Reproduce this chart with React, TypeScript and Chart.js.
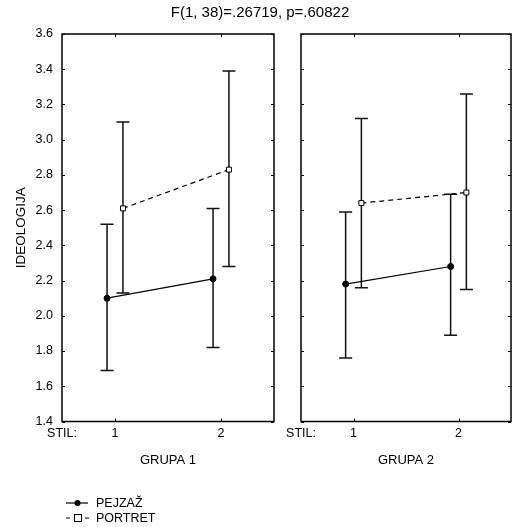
import React, { useEffect, useRef } from 'react';
import { Chart, registerables } from 'chart.js';

Chart.register(...registerables);

const FONT = '"Liberation Sans", Arial, Helvetica, sans-serif';

const titleText = 'F(1, 38)=.26719, p=.60822';
const yAxisTitle = 'IDEOLOGIJA';
const seriesNames = ['PEJZAŽ', 'PORTRET'];
const groupTitles = ['GRUPA 1', 'GRUPA 2'];
const stilLevels = [1, 2];
const xTickValues = [0.5, 1, 2];
const xTickLabels = ['STIL:', '1', '2'];
const yTickValues = [1.4, 1.6, 1.8, 2.0, 2.2, 2.4, 2.6, 2.8, 3.0, 3.2, 3.4, 3.6];

// GRUPA 1
const g1PejzazMean = [2.10, 2.21];
const g1PejzazLow = [1.69, 1.82];
const g1PejzazHigh = [2.52, 2.61];
const g1PortretMean = [2.61, 2.83];
const g1PortretLow = [2.13, 2.28];
const g1PortretHigh = [3.10, 3.39];

// GRUPA 2
const g2PejzazMean = [2.18, 2.28];
const g2PejzazLow = [1.76, 1.89];
const g2PejzazHigh = [2.59, 2.69];
const g2PortretMean = [2.64, 2.70];
const g2PortretLow = [2.16, 2.15];
const g2PortretHigh = [3.12, 3.26];

const SERIES_SHIFT = 0.075;

function makePoints(mean: number[], low: number[], high: number[], shift: number) {
  return stilLevels.map((s, i) => ({ x: s + shift, y: mean[i], lo: low[i], hi: high[i] }));
}

const errorBarPlugin = {
  id: 'errorBars',
  beforeDatasetsDraw(chart: any) {
    const ctx = chart.ctx;
    const xs = chart.scales.x;
    const ys = chart.scales.y;
    ctx.save();
    ctx.strokeStyle = '#111';
    ctx.lineWidth = 1.5;
    ctx.setLineDash([]);
    chart.data.datasets.forEach((ds: any) => {
      ds.data.forEach((p: any) => {
        const x = xs.getPixelForValue(p.x);
        const yl = ys.getPixelForValue(p.lo);
        const yh = ys.getPixelForValue(p.hi);
        ctx.beginPath();
        ctx.moveTo(x, yl);
        ctx.lineTo(x, yh);
        ctx.moveTo(x - 6.5, yl);
        ctx.lineTo(x + 6.5, yl);
        ctx.moveTo(x - 6.5, yh);
        ctx.lineTo(x + 6.5, yh);
        ctx.stroke();
      });
    });
    ctx.restore();
  },
};

const framePlugin = {
  id: 'frame',
  afterDraw(chart: any) {
    const ctx = chart.ctx;
    const a = chart.chartArea;
    const xs = chart.scales.x;
    const ys = chart.scales.y;
    ctx.save();
    ctx.strokeStyle = '#000';
    ctx.lineWidth = 1.5;
    ctx.setLineDash([]);
    ctx.strokeRect(a.left, a.top, a.right - a.left, a.bottom - a.top);
    ctx.lineWidth = 1;
    ctx.beginPath();
    yTickValues.forEach((v) => {
      const y = Math.round(ys.getPixelForValue(v)) + 0.5;
      ctx.moveTo(a.left, y);
      ctx.lineTo(a.left + 3, y);
      ctx.moveTo(a.right, y);
      ctx.lineTo(a.right - 3, y);
    });
    stilLevels.forEach((v) => {
      const x = Math.round(xs.getPixelForValue(v)) + 0.5;
      ctx.moveTo(x, a.top);
      ctx.lineTo(x, a.top + 3);
      ctx.moveTo(x, a.bottom);
      ctx.lineTo(x, a.bottom - 3);
    });
    ctx.stroke();
    ctx.restore();
  },
};

const decorPlugin = {
  id: 'decor',
  afterDraw(chart: any) {
    const ctx = chart.ctx;
    ctx.save();
    ctx.fillStyle = '#000';
    ctx.font = '15px ' + FONT;
    ctx.textAlign = 'center';
    ctx.textBaseline = 'middle';
    ctx.fillText(titleText, 260, 13);

    // legend
    ctx.font = '12.5px ' + FONT;
    ctx.textAlign = 'left';
    ctx.strokeStyle = '#000';
    ctx.lineWidth = 1.2;
    const y1 = 503;
    const y2 = 518;
    ctx.beginPath();
    ctx.moveTo(66, y1);
    ctx.lineTo(88, y1);
    ctx.stroke();
    ctx.beginPath();
    ctx.arc(77.5, y1, 3, 0, Math.PI * 2);
    ctx.fill();
    ctx.fillText(seriesNames[0], 96, y1 + 0.5);

    ctx.beginPath();
    ctx.moveTo(66, y2);
    ctx.lineTo(70, y2);
    ctx.moveTo(85, y2);
    ctx.lineTo(89, y2);
    ctx.stroke();
    ctx.fillStyle = '#fff';
    ctx.fillRect(74.5, y2 - 3.5, 7, 7);
    ctx.lineWidth = 1;
    ctx.strokeRect(74.5, y2 - 3.5, 7, 7);
    ctx.fillStyle = '#000';
    ctx.fillText(seriesNames[1], 96, y2 + 0.5);
    ctx.restore();
  },
};

function buildConfig(
  groupIndex: number,
  datasets: any[],
  padding: any,
  yWidth: number,
  showYLabels: boolean,
  extraPlugins: any[]
) {
  return {
    type: 'line' as const,
    data: { datasets },
    plugins: [errorBarPlugin, framePlugin, ...extraPlugins],
    options: {
      responsive: false,
      animation: false as const,
      devicePixelRatio: 1,
      layout: { padding },
      plugins: {
        legend: { display: false },
        tooltip: { enabled: false },
        title: { display: false },
      },
      scales: {
        x: {
          type: 'linear' as const,
          min: 0.5,
          max: 2.5,
          afterBuildTicks: (s: any) => {
            s.ticks = xTickValues.map((v) => ({ value: v }));
          },
          afterFit: (s: any) => {
            s.height = 50;
          },
          ticks: {
            autoSkip: false,
            maxRotation: 0,
            minRotation: 0,
            padding: 5,
            color: '#000',
            font: { family: FONT, size: 12.5 },
            callback: (_v: any, i: number) => xTickLabels[i],
          },
          grid: { display: false, drawTicks: false },
          border: { display: false },
          title: {
            display: true,
            text: groupTitles[groupIndex],
            color: '#000',
            font: { family: FONT, size: 13 },
            padding: { top: 0, bottom: 3 },
          },
        },
        y: {
          type: 'linear' as const,
          min: 1.4,
          max: 3.6,
          afterBuildTicks: (s: any) => {
            s.ticks = yTickValues.map((v) => ({ value: v }));
          },
          afterFit: (s: any) => {
            s.width = yWidth;
          },
          ticks: {
            display: showYLabels,
            autoSkip: false,
            padding: 9,
            color: '#000',
            font: { family: FONT, size: 12.5 },
            callback: (v: any) => Number(v).toFixed(1),
          },
          grid: { display: false, drawTicks: false },
          border: { display: false },
          title: {
            display: showYLabels,
            text: yAxisTitle,
            color: '#000',
            font: { family: FONT, size: 13.5 },
            padding: { top: 13, bottom: 0 },
          },
        },
      },
    },
  };
}

function seriesDatasets(
  pMean: number[], pLow: number[], pHigh: number[],
  rMean: number[], rLow: number[], rHigh: number[]
) {
  return [
    {
      label: seriesNames[0],
      data: makePoints(pMean, pLow, pHigh, -SERIES_SHIFT),
      borderColor: '#000',
      borderWidth: 1.2,
      pointStyle: 'circle',
      pointRadius: 3,
      pointBackgroundColor: '#000',
      pointBorderColor: '#000',
      pointBorderWidth: 1,
      tension: 0,
      fill: false,
    },
    {
      label: seriesNames[1],
      data: makePoints(rMean, rLow, rHigh, SERIES_SHIFT),
      borderColor: '#000',
      borderWidth: 1.2,
      borderDash: [5, 4],
      pointStyle: 'rect',
      pointRadius: 3.5,
      pointBackgroundColor: '#fff',
      pointBorderColor: '#000',
      pointBorderWidth: 1,
      tension: 0,
      fill: false,
    },
  ];
}

export default function App() {
  const leftRef = useRef<HTMLCanvasElement>(null);
  const rightRef = useRef<HTMLCanvasElement>(null);

  useEffect(() => {
    const left = new Chart(
      leftRef.current as HTMLCanvasElement,
      buildConfig(
        0,
        seriesDatasets(g1PejzazMean, g1PejzazLow, g1PejzazHigh, g1PortretMean, g1PortretLow, g1PortretHigh),
        { top: 34, right: 242, bottom: 55.5, left: 0 },
        62,
        true,
        [decorPlugin]
      ) as any
    );
    const right = new Chart(
      rightRef.current as HTMLCanvasElement,
      buildConfig(
        1,
        seriesDatasets(g2PejzazMean, g2PejzazLow, g2PejzazHigh, g2PortretMean, g2PortretLow, g2PortretHigh),
        { top: 34, right: 3, bottom: 55.5, left: 0 },
        21,
        false,
        []
      ) as any
    );
    return () => {
      left.destroy();
      right.destroy();
    };
  }, []);

  return (
    <div style={{ position: 'fixed', left: 0, top: 0, width: 516, height: 527, background: '#fff' }}>
      <canvas
        ref={leftRef}
        width={516}
        height={527}
        style={{ position: 'absolute', left: 0, top: 0, width: 516, height: 527 }}
      />
      <canvas
        ref={rightRef}
        width={236}
        height={527}
        style={{ position: 'absolute', left: 280, top: 0, width: 236, height: 527 }}
      />
    </div>
  );
}
